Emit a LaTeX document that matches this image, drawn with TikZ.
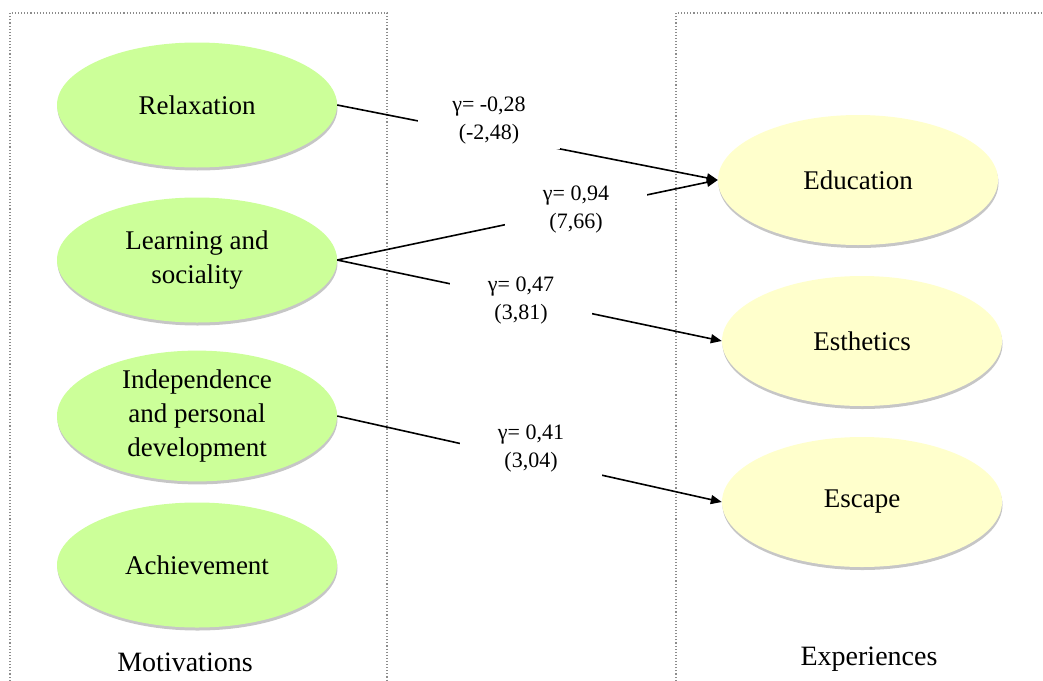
\documentclass[tikz,border=0pt]{standalone}
\usepackage{fontspec}
\setmainfont{Liberation Serif}
\usetikzlibrary{shapes.geometric,shadows,arrows.meta}
\definecolor{motgreen}{RGB}{204,255,153}
\definecolor{expyellow}{RGB}{255,255,204}
\tikzset{
  motiv/.style={ellipse, fill=motgreen, minimum width=280pt, minimum height=125pt, inner sep=0pt, align=center,
    font=\fontsize{27}{34}\selectfont,
    drop shadow={shadow xshift=0.5pt, shadow yshift=-3pt, fill=black!50, opacity=.45}},
  exper/.style={motiv, fill=expyellow, minimum height=130pt},
  coef/.style={fill=white, minimum width=142pt, minimum height=56pt, inner sep=0pt, align=center,
    font=\fontsize{22}{28}\selectfont},
  conn/.style={line width=1.6pt, -{Triangle[length=11pt,width=9pt]}},
  frame/.style={draw=black!45, dotted, line width=1.1pt},
  caption/.style={font=\fontsize{28}{34}\selectfont}
}
\begin{document}
\begin{tikzpicture}[x=1pt,y=-1pt]
\useasboundingbox (0,0) rectangle (1043,680);
\draw[frame] (10,690) -- (10,13) -- (387,13) -- (387,690);
\draw[frame] (676,690) -- (676,13) -- (1050,13);

\node[motiv] (rel) at (197,105) {Relaxation};
\node[motiv] (lea) at (197,260) {Learning and\\sociality};
\node[motiv] (ind) at (197,416) {Independence\\and personal\\development};
\node[motiv] (ach) at (197,565) {Achievement};

\node[exper] (edu) at (858,180) {Education};
\node[exper] (est) at (862,341) {Esthetics};
\node[exper] (esc) at (862,502) {Escape};

\draw[conn] (rel.east) -- (edu.west);
\draw[conn] (lea.east) -- (edu.west);
\draw[conn] (lea.east) -- (est.west);
\draw[conn] (ind.east) -- (esc.west);

\node[coef] (c1) at (489,121) {γ= -0,28\\(-2,48)};
\node[coef] (c2) at (576,210) {γ= 0,94\\(7,66)};
\node[coef] (c3) at (521,301) {γ= 0,47\\(3,81)};
\node[coef] (c4) at (531,449) {γ= 0,41\\(3,04)};

\node[caption] (mot) at (185,662) {Motivations};
\node[caption] (exp) at (869,659) {Experiences};
\end{tikzpicture}
\end{document}
